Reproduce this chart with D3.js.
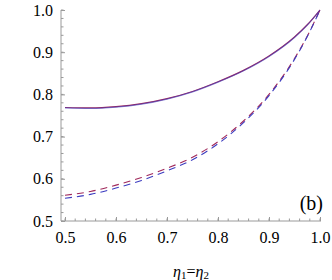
<!DOCTYPE html>
<html><head><meta charset="utf-8">
<script src="https://cdn.jsdelivr.net/npm/d3@7"></script>
<style>body{margin:0;background:#fff}svg{display:block}</style>
</head><body>
<svg id="c" width="332" height="280"></svg>
<script>
const xs = [0.5,0.55,0.6,0.65,0.7,0.75,0.8,0.85,0.9,0.95,0.975,1.0];
const solidRed  = [0.769,0.768,0.771,0.778,0.790,0.807,0.830,0.857,0.891,0.936,0.965,1.0];
const solidBlue = [0.768,0.767,0.770,0.777,0.789,0.806,0.829,0.856,0.890,0.935,0.964,1.0];
const dashRed   = [0.561,0.570,0.585,0.603,0.625,0.651,0.688,0.737,0.800,0.885,0.938,1.0];
const dashBlue  = [0.554,0.563,0.578,0.596,0.619,0.645,0.683,0.733,0.797,0.883,0.937,1.0];
const xTicks = [0.5,0.6,0.7,0.8,0.9,1.0];
const yTicks = [0.5,0.6,0.7,0.8,0.9,1.0];

const svg = d3.select("#c");
const x = d3.scaleLinear().domain([0.5,1.0]).range([65,320]);
const y = d3.scaleLinear().domain([0.5,1.0]).range([221,10]);
const axX0 = 61, axY0 = 221;
const axisCol = "#9a9a9a";
const fontCss = "font-family:'Liberation Serif','Times New Roman',Times,serif";

const minorX = d3.range(0.48,1.001,0.02).filter(v=>v>=0.485);
const minorY = d3.range(0.5,1.001,0.02);

// x axis
const gx = svg.append("g").attr("transform",`translate(0,${axY0})`);
gx.append("line").attr("x1",axX0).attr("x2",x(1.0)+1).attr("stroke",axisCol).attr("stroke-width",1);
gx.selectAll(".mn").data(minorX).join("line").attr("x1",d=>x(d)).attr("x2",d=>x(d)).attr("y1",0).attr("y2",-2.5).attr("stroke",axisCol);
gx.call(d3.axisBottom(x).tickValues(xTicks).tickFormat(d3.format(".1f")).tickSize(-4).tickPadding(11));
gx.attr("font-family",null);
gx.select(".domain").remove();
gx.selectAll(".tick line").attr("stroke",axisCol);
gx.selectAll(".tick text").attr("style",fontCss+";font-size:16px").attr("fill","#000");

// y axis
const gy = svg.append("g").attr("transform",`translate(${axX0},0)`);
gy.append("line").attr("y1",axY0).attr("y2",y(1.0)).attr("stroke",axisCol).attr("stroke-width",1);
gy.selectAll(".mn").data(minorY).join("line").attr("y1",d=>y(d)).attr("y2",d=>y(d)).attr("x1",0).attr("x2",2.5).attr("stroke",axisCol);
gy.call(d3.axisLeft(y).tickValues(yTicks).tickFormat(d3.format(".1f")).tickSize(-4).tickPadding(8));
gy.attr("font-family",null);
gy.select(".domain").remove();
gy.selectAll(".tick line").attr("stroke",axisCol);
gy.selectAll(".tick text").attr("style",fontCss+";font-size:16px").attr("fill","#000");

// curves
const line = d3.line().x((d,i)=>x(xs[i])).y(d=>y(d)).curve(d3.curveMonotoneX);
const red = "#a0285a", blue = "#3c3cc0";
svg.append("path").attr("d",line(dashRed)).attr("fill","none").attr("stroke",red).attr("stroke-width",1.1).attr("stroke-dasharray","7,5");
svg.append("path").attr("d",line(dashBlue)).attr("fill","none").attr("stroke",blue).attr("stroke-width",1.1).attr("stroke-dasharray","7,5");
svg.append("path").attr("d",line(solidRed)).attr("fill","none").attr("stroke",red).attr("stroke-width",1.2);
svg.append("path").attr("d",line(solidBlue)).attr("fill","none").attr("stroke",blue).attr("stroke-width",1.2).attr("stroke-opacity",0.6);

// panel label
svg.append("text").attr("x",323).attr("y",210).attr("text-anchor","end")
  .attr("style",fontCss+";font-size:20px").text("(b)");

// x label
const t = svg.append("text").attr("x",191).attr("y",277).attr("text-anchor","middle")
  .attr("style",fontCss+";font-size:16px");
t.append("tspan").attr("font-style","italic").text("η");
t.append("tspan").attr("style","font-size:11px").attr("dy",2).text("1");
t.append("tspan").attr("dy",-2).text("=");
t.append("tspan").attr("font-style","italic").text("η");
t.append("tspan").attr("style","font-size:11px").attr("dy",2).text("2");
</script>
</body></html>
